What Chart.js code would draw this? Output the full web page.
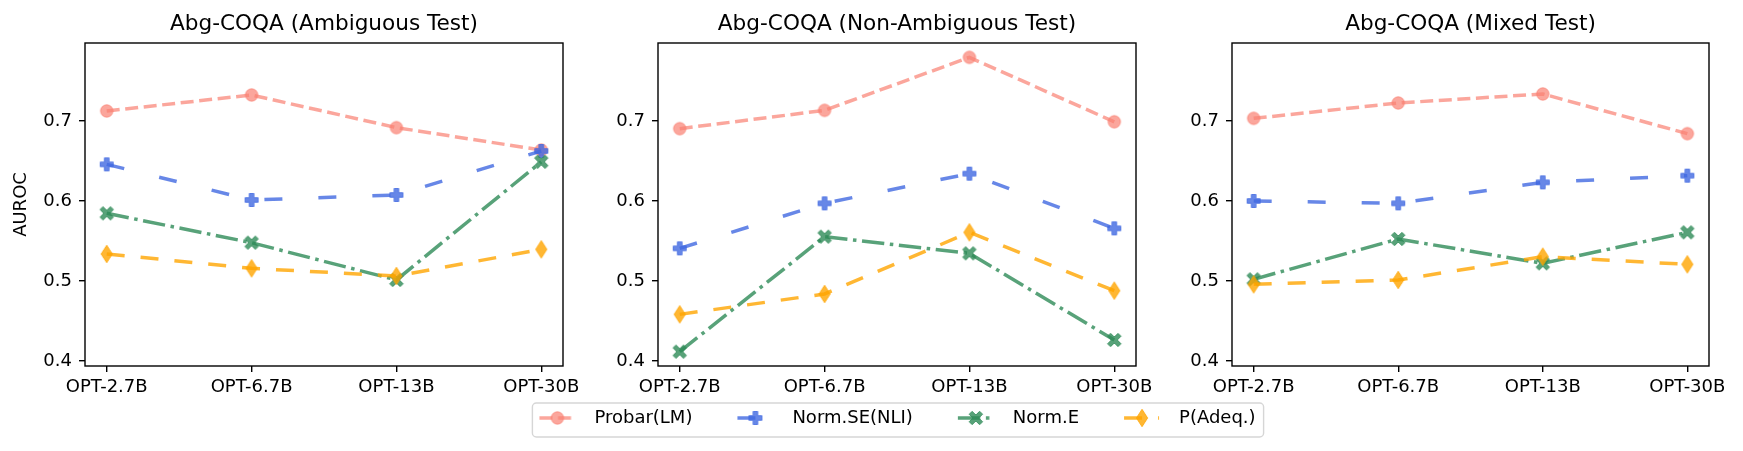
<!DOCTYPE html>
<html><head><meta charset="utf-8">
<script src="https://cdn.jsdelivr.net/npm/chart.js@4.4.1/dist/chart.umd.min.js"></script>
<style>
html,body{margin:0;padding:0;background:#fff;}
#wrap{position:relative;width:1743px;height:451px;overflow:hidden;background:#fff;}
.c{position:absolute;top:0;height:451px;}
canvas{display:block;}
</style></head><body>
<div id="wrap">
  <div class="c" id="d0" style="left:0px;width:600px"><canvas id="c0" width="600" height="451"></canvas></div>
  <div class="c" id="d2" style="left:1172px;width:571px"><canvas id="c2" width="571" height="451"></canvas></div>
  <div class="c" id="d1" style="left:459px;width:840px"><canvas id="c1" width="840" height="451"></canvas></div>
</div>
<script>
// ---- data ----
const categories = ['OPT-2.7B', 'OPT-6.7B', 'OPT-13B', 'OPT-30B'];
const panelTitles = ['Abg-COQA (Ambiguous Test)', 'Abg-COQA (Non-Ambiguous Test)', 'Abg-COQA (Mixed Test)'];
const seriesNames = ['Probar(LM)', 'Norm.SE(NLI)', 'Norm.E', 'P(Adeq.)'];
// values per panel: [Ambiguous, Non-Ambiguous, Mixed]
const probarLM = [[0.7125, 0.7325, 0.6917, 0.6637], [0.6904, 0.7133, 0.7796, 0.6990], [0.7033, 0.7225, 0.7338, 0.6842]];
const normSE   = [[0.6458, 0.6013, 0.6075, 0.6625], [0.5408, 0.5971, 0.6342, 0.5658], [0.6000, 0.5971, 0.6233, 0.6317]];
const normE    = [[0.5846, 0.5479, 0.5013, 0.6490], [0.4117, 0.5554, 0.5346, 0.4263], [0.5021, 0.5525, 0.5221, 0.5608]];
const pAdeq    = [[0.5338, 0.5158, 0.5063, 0.5396], [0.4583, 0.4838, 0.5608, 0.4879], [0.4958, 0.5013, 0.5304, 0.5208]];
const yTicks = [0.4, 0.5, 0.6, 0.7];
const yLabel = 'AUROC';

// ---- styles ----
const FONT = 'DejaVu Sans';
const LW = 3.5;
const LEAD = 37;
const styles = [
  {color: 'rgba(250,128,114,0.7)', dash: [13, 5.6], marker: 'circle'},
  {color: 'rgba(65,105,225,0.8)', dash: [18, 36], marker: 'plus'},
  {color: 'rgba(46,139,87,0.8)', dash: [22.4, 5.6, 3.5, 5.6], marker: 'x'},
  {color: 'rgba(255,165,0,0.8)', dash: [18, 16], marker: 'diamond'}
];

function shapePath(g, kind, cx, cy) {
  g.beginPath();
  if (kind === 'circle') {
    g.arc(cx, cy, 6.2, 0, Math.PI * 2);
  } else if (kind === 'plus' || kind === 'x') {
    const a = kind === 'plus' ? 6.5 : 7.4, t = kind === 'plus' ? 2.3 : 2.1;
    const pts = [[-t,-a],[t,-a],[t,-t],[a,-t],[a,t],[t,t],[t,a],[-t,a],[-t,t],[-a,t],[-a,-t],[-t,-t]];
    const r = kind === 'x' ? Math.PI / 4 : 0;
    pts.forEach((p, i) => {
      const x = cx + p[0] * Math.cos(r) - p[1] * Math.sin(r);
      const y = cy + p[0] * Math.sin(r) + p[1] * Math.cos(r);
      if (i === 0) g.moveTo(x, y); else g.lineTo(x, y);
    });
  } else if (kind === 'diamond') {
    g.moveTo(cx, cy - 8.7); g.lineTo(cx + 5.6, cy); g.lineTo(cx, cy + 8.7); g.lineTo(cx - 5.6, cy);
  }
  g.closePath();
}
function drawMarker(g, kind, color, cx, cy) {
  g.fillStyle = color; g.strokeStyle = color; g.lineWidth = 1;
  g.setLineDash([]);
  shapePath(g, kind, cx, cy); g.fill(); g.stroke();
}
function markerImage(st) {
  const c = document.createElement('canvas'); c.width = 22; c.height = 22;
  drawMarker(c.getContext('2d'), st.marker, st.color, 11, 11);
  return c;
}
function legendImage(st) {
  const c = document.createElement('canvas'); c.width = 46 + LEAD; c.height = 22;
  const g = c.getContext('2d');
  g.strokeStyle = st.color; g.lineWidth = LW; g.setLineDash(st.dash);
  g.beginPath(); g.moveTo(LEAD, 11); g.lineTo(LEAD + 35, 11); g.stroke();
  drawMarker(g, st.marker, st.color, LEAD + 18, 11);
  return c;
}
const markerImgs = styles.map(markerImage);
const legendImgs = styles.map(legendImage);

const allSeries = [probarLM, normSE, normE, pAdeq];

const framePlugin = {
  id: 'frame',
  afterDraw(chart) {
    const a = chart.chartArea, g = chart.ctx;
    g.save(); g.strokeStyle = '#000'; g.lineWidth = 1.4; g.setLineDash([]);
    g.strokeRect(a.left, a.top, a.right - a.left, a.bottom - a.top);
    g.restore();
    const lg = chart.legend;
    if (chart.options.plugins.legend.display && lg && lg.legendHitBoxes && lg.legendHitBoxes.length) {
      const hb = lg.legendHitBoxes, f = hb[0], l = hb[hb.length - 1];
      const x0 = f.left + LEAD - 7, x1 = l.left + l.width + 8, y0 = f.top - 6, y1 = f.top + f.height + 10;
      g.save(); g.strokeStyle = 'rgba(204,204,204,0.8)'; g.lineWidth = 1.4;
      g.beginPath(); g.roundRect(x0, y0, x1 - x0, y1 - y0, 4); g.stroke(); g.restore();
    }
  }
};

function makeChart(idx, cfg) {
  const datasets = allSeries.map((s, k) => ({
    label: seriesNames[k],
    data: s[idx].map((v, i) => ({x: i, y: v})),
    borderColor: styles[k].color,
    backgroundColor: styles[k].color,
    borderWidth: LW,
    borderDash: styles[k].dash,
    pointStyle: markerImgs[k],
    pointRadius: 6,
    tension: 0,
    order: 4 - k,
    yAxisID: 'y'
  }));
  const scales = {
    x: {
      type: 'linear', min: -0.15, max: 3.15,
      afterBuildTicks: s => { s.ticks = categories.map((c, i) => ({value: i})); },
      afterFit: s => { s.height = cfg.xH; },
      ticks: {callback: v => categories[Math.round(v)], autoSkip: false, maxRotation: 0,
              font: {family: FONT, size: 18}, color: '#000', padding: 5},
      grid: {display: true, drawOnChartArea: false, drawTicks: true, tickLength: 6, color: '#000', lineWidth: 1.4},
      border: {display: false}
    },
    y: {
      type: 'linear', min: 0.39375, max: 0.7975, position: 'left',
      afterBuildTicks: s => { s.ticks = yTicks.map(v => ({value: v})); },
      afterFit: s => { s.width = cfg.yW; },
      ticks: {callback: v => v.toFixed(1), font: {family: FONT, size: 18}, color: '#000', padding: 7},
      grid: {display: true, drawOnChartArea: false, drawTicks: true, tickLength: 6, color: '#000', lineWidth: 1.4},
      border: {display: false},
      title: {display: !!cfg.yTitle, text: yLabel, font: {family: FONT, size: 18}, color: '#000', padding: {top: 11, bottom: 0}}
    }
  };
  if (cfg.rightW) {
    scales.yR = {type: 'linear', position: 'right', display: true,
      afterFit: s => { s.width = cfg.rightW; },
      ticks: {display: false}, grid: {display: false}, border: {display: false}};
  }
  return new Chart(document.getElementById('c' + idx), {
    type: 'line',
    data: {datasets},
    options: {
      responsive: false, animation: false,
      layout: {padding: cfg.pad},
      plugins: {
        title: {display: true, text: panelTitles[idx], fullSize: false, color: '#000',
                font: {family: FONT, size: 21.6, weight: 'normal', lineHeight: 1.2}, padding: {top: 11, bottom: 6.08}},
        legend: cfg.legend ? {
          display: true, position: 'bottom',
          labels: {
            usePointStyle: true, pointStyleWidth: 46 + LEAD, padding: 8, color: '#000',
            font: {family: FONT, size: 18},
            generateLabels: () => seriesNames.map((n, k) => ({
              text: n, pointStyle: legendImgs[k], fillStyle: 'rgba(0,0,0,0)', strokeStyle: 'rgba(0,0,0,0)',
              lineWidth: 0, hidden: false, datasetIndex: k, fontColor: '#000'
            }))
          }
        } : {display: false},
        tooltip: {enabled: false}
      },
      scales
    },
    plugins: [framePlugin]
  });
}

makeChart(0, {xH: 85, yW: 85, yTitle: true, pad: {left: 0, right: 37, top: 0, bottom: 0}});
makeChart(2, {xH: 85, yW: 60, pad: {left: 0, right: 34, top: 0, bottom: 0}});
makeChart(1, {xH: 35, yW: 199, rightW: 163, legend: true, pad: {left: 0, right: 0, top: 0, bottom: 14}});
</script>
</body></html>
